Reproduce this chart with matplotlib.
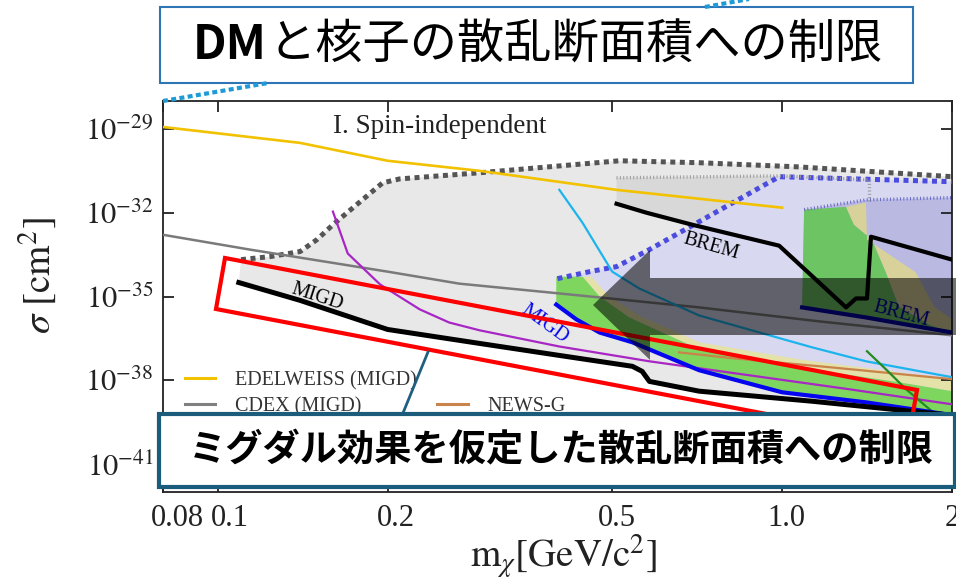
import numpy as np
import matplotlib
matplotlib.use("Agg")
import matplotlib.pyplot as plt
from matplotlib.lines import Line2D
from matplotlib.patches import Polygon, Rectangle
from matplotlib.ticker import NullLocator
from matplotlib.transforms import ScaledTranslation

plt.rcParams["font.family"] = ["Liberation Serif", "DejaVu Serif"]
plt.rcParams["mathtext.fontset"] = "stix"

W, H = 956, 586
JP = ["Noto Sans CJK JP", "DejaVu Sans"]

# --- data: mass [GeV/c^2] and log10(sigma / cm^2) ---
edelweiss_m = [0.08, 0.14, 0.20, 0.291, 0.508, 0.713, 1.0]
edelweiss_ls = [-28.93, -29.50, -30.14, -30.50, -31.18, -31.50, -31.82]

cdex_m = [0.08, 0.114, 0.20, 0.268, 0.403, 0.713, 1.163, 2.0]
cdex_ls = [-32.79, -33.32, -34.11, -34.54, -34.89, -35.39, -35.89, -36.39]

env_m = [0.110, 0.124, 0.140, 0.150, 0.160, 0.178, 0.196, 0.210, 0.291,
         0.515, 0.713, 1.072, 2.0]
env_ls = [-33.68, -33.57, -33.39, -32.96, -32.43, -31.64, -30.93, -30.79,
          -30.57, -30.14, -30.21, -30.36, -30.71]

migd_m = [0.109, 0.140, 0.20, 0.291, 0.403, 0.543, 0.565, 0.582, 0.713,
          1.130, 1.699, 2.0]
migd_ls = [-34.50, -35.14, -36.18, -36.68, -37.11, -37.50, -37.68, -38.04,
           -38.39, -38.75, -39.11, -39.25]

purple_m = [0.160, 0.170, 0.194, 0.228, 0.257, 0.291, 0.403, 0.582, 0.874,
            1.314, 2.0]
purple_ls = [-31.96, -33.46, -34.57, -35.46, -35.93, -36.21, -36.79, -37.32,
             -37.82, -38.32, -38.86]

cyan_m = [0.403, 0.443, 0.500, 0.558, 0.713, 1.130, 1.408, 2.0]
cyan_ls = [-31.18, -32.36, -34.11, -34.71, -35.68, -36.82, -37.32, -37.89]

newsg_m = [0.657, 0.816, 1.226, 2.0]
newsg_ls = [-37.00, -37.21, -37.54, -37.96]

green_line_m = [1.414, 1.528, 1.658, 1.843, 2.0]
green_line_ls = [-36.96, -37.61, -38.32, -39.11, -39.75]

blue_migd_m = [0.398, 0.432, 0.475, 0.543, 0.713, 1.0, 1.408, 1.843, 2.0]
blue_migd_ls = [-35.29, -35.82, -36.29, -36.64, -37.64, -38.43, -38.79,
                -39.14, -39.25]

blue_env_m = [0.40, 0.456, 0.509, 0.582, 0.713, 0.988, 2.0]
blue_env_ls = [-34.36, -34.11, -33.93, -33.32, -32.32, -30.71, -30.89]

brem_m = [0.509, 0.575, 0.693, 0.988, 1.298, 1.352, 1.414, 1.437, 2.0]
brem_ls = [-31.68, -32.00, -32.43, -33.18, -35.39, -35.07, -35.07, -32.86,
           -33.68]

blue_brem_m = [1.085, 1.408, 2.0]
blue_brem_ls = [-35.39, -35.75, -36.29]

gray_fine_m = [0.509, 0.988, 1.426]
gray_fine_ls = [-30.75, -30.68, -30.82]
gray_fine_drop = -31.61

lav_fine_m = [1.094, 1.408, 2.0]
lav_fine_ls = [-31.89, -31.54, -31.46]

band_green_m = [0.398, 0.443, 0.475, 0.536, 0.713, 1.072, 1.611, 2.0]
band_green_ls = [-34.29, -34.29, -35.0, -35.75, -36.89, -37.54, -38.07, -38.39]
band_tan_m = [0.443, 0.459, 0.494, 0.558, 0.713, 1.072, 2.0]
band_tan_ls = [-34.29, -34.29, -35.0, -35.68, -36.64, -37.25, -37.96]

green_r_m = [1.094, 1.298, 1.341, 1.443, 1.528, 1.611, 1.820, 2.0]
green_r_ls = [-31.89, -31.79, -32.43, -32.96, -34.14, -35.36, -36.0, -36.29]
tan_r_m = [1.298, 1.408, 1.414, 1.726, 1.858, 2.0]
tan_r_ls = [-31.79, -31.64, -32.96, -34.14, -35.36, -35.82]

xticks = [0.08, 0.1, 0.2, 0.5, 1.0, 2.0]
xticklabels = ["0.08", "0.1", "0.2", "0.5", "1.0", "2"]
yexp = [-29, -32, -35, -38, -41]

title = "と核子の散乱断面積への制限"
callout = "ミグダル効果を仮定した散乱断面積への制限"


def lg(v):
    return np.power(10.0, np.asarray(v, float))


def fpx(x, y):
    return (x / W, 1 - y / H)


fig = plt.figure(figsize=(W / 100, H / 100), dpi=100)
ax = fig.add_axes([163 / W, 1 - 492 / H, 789 / W, 391 / H])
ax.set_xscale("log")
ax.set_yscale("log")


def fill(xs, ys, color, z):
    ax.fill(xs, lg(ys), color=color, lw=0, zorder=z)


# shaded regions
fill(env_m + migd_m[::-1], env_ls + migd_ls[::-1], "#e8e8e8", 1.0)
fill(gray_fine_m + [gray_fine_m[-1]] + brem_m[:4][::-1],
     gray_fine_ls + [gray_fine_drop] + brem_ls[:4][::-1], "#d8d8d8", 1.1)
fill(blue_env_m + blue_migd_m[::-1], blue_env_ls + blue_migd_ls[::-1],
     "#d8d8f0", 1.2)
fill(lav_fine_m + blue_brem_m[::-1], lav_fine_ls + blue_brem_ls[::-1],
     "#b9b9e2", 1.3)
fill(band_tan_m + band_green_m[1:][::-1], band_tan_ls + band_green_ls[1:][::-1],
     "#e4e2a8", 1.4)
fill(band_green_m + blue_migd_m[::-1], band_green_ls + blue_migd_ls[::-1],
     "#7ed65e", 1.5)
fill(green_r_m + blue_brem_m[::-1], green_r_ls + blue_brem_ls[::-1],
     "#6cc462", 1.5)
fill(tan_r_m + green_r_m[1:][::-1], tan_r_ls + green_r_ls[1:][::-1],
     "#d8d29a", 1.6)

# boundaries
ax.plot(env_m, lg(env_ls), color="#555555", lw=3.6, ls=(0, (1, 0.9)), zorder=3)
ax.plot(blue_env_m, lg(blue_env_ls), color="#4b4be0", lw=3.6,
        ls=(0, (1, 0.9)), zorder=3)
ax.plot(gray_fine_m, lg(gray_fine_ls), color="#9a9a9a", lw=2.4,
        ls=(0, (0.3, 0.7)), zorder=3)
ax.plot([gray_fine_m[-1]] * 2, lg([gray_fine_ls[-1], gray_fine_drop]),
        color="#9a9a9a", lw=2.4, ls=(0, (0.3, 0.7)), zorder=3)
ax.plot(lav_fine_m, lg(lav_fine_ls), color="#6a6ac8", lw=2.4,
        ls=(0, (0.3, 0.7)), zorder=3)

# limit curves
ax.plot(edelweiss_m, lg(edelweiss_ls), color="#f2c200", lw=1.9, zorder=4)
ax.plot(cdex_m, lg(cdex_ls), color="#7a7a7a", lw=1.8, zorder=4)
ax.plot(purple_m, lg(purple_ls), color="#a826c4", lw=1.6, zorder=4)
ax.plot(cyan_m, lg(cyan_ls), color="#1cb4ec", lw=1.6, zorder=4)
ax.plot(newsg_m, lg(newsg_ls), color="#c8844a", lw=1.6, zorder=4)
ax.plot(green_line_m, lg(green_line_ls), color="#228b22", lw=1.6, zorder=4)
ax.plot(blue_migd_m, lg(blue_migd_ls), color="#0505f0", lw=3.0, zorder=4)
ax.plot(migd_m, lg(migd_ls), color="black", lw=3.6, zorder=4)
ax.plot(brem_m, lg(brem_ls), color="black", lw=3.0, zorder=4)
ax.plot(blue_brem_m, lg(blue_brem_ls), color="#0000a8", lw=3.0, zorder=4)

ax.text(0.150, lg(-35.0), "MIGD", rotation=-18, fontsize=14.5, ha="center",
        va="center", color="black", zorder=5)
ax.text(0.379, lg(-36.0), "MIGD", rotation=-36, fontsize=14.5, ha="center",
        va="center", color="#0505f0", zorder=5)
ax.text(0.749, lg(-33.21), "BREM", rotation=-16, fontsize=14.5, ha="center",
        va="center", color="black", zorder=5)
ax.text(1.624, lg(-35.61), "BREM", rotation=-15, fontsize=14.5, ha="center",
        va="center", color="#0000a8", zorder=5)
ax.text(0.351, 0.934, "I. Spin-independent", transform=ax.transAxes,
        fontsize=19.5, ha="center", va="center", color="#222222")

handles = [Line2D([], [], color="#f2c200", lw=2.2),
           Line2D([], [], color="#808080", lw=2.2),
           Line2D([], [], alpha=0),
           Line2D([], [], color="#c8844a", lw=2.2)]
labels = ["EDELWEISS (MIGD)", "CDEX (MIGD)", "", "NEWS-G"]
ax.legend(handles, labels, ncol=2, loc="upper left",
          bbox_to_anchor=(0.028, 0.31), frameon=False, fontsize=14.5,
          handlelength=1.5, handletextpad=1.0, columnspacing=1.0,
          labelspacing=0.35, borderpad=0, borderaxespad=0,
          labelcolor="#333333")

ax.set_xlim(0.08, 2.0)
ax.set_ylim(1e-42, 1e-28)
ax.set_xticks(xticks)
ax.set_xticklabels(xticklabels)
ax.set_yticks([10.0 ** e for e in yexp])
ax.set_yticklabels([rf"$10^{{{e}}}$" for e in yexp])
ax.xaxis.set_minor_locator(NullLocator())
ax.yaxis.set_minor_locator(NullLocator())
ax.tick_params(which="major", direction="in", length=8, width=1.3, top=True,
               right=True, labelsize=22, colors="#222222")
ax.tick_params(axis="x", pad=9)
ax.tick_params(axis="y", pad=7)
for s in ax.spines.values():
    s.set_linewidth(1.3)
    s.set_color("#222222")
for lab, dx in zip(ax.get_xticklabels(), [14, 12, 8, 5, 4, 0]):
    lab.set_transform(lab.get_transform()
                      + ScaledTranslation(dx / 100, 0, fig.dpi_scale_trans))

fig.text(*fpx(38, 276), r"$\sigma\ [\mathrm{cm}^2]$", rotation=90,
         fontsize=28, ha="center", va="center", color="#222222")
fig.text(*fpx(563, 557), r"$\mathrm{m}_\chi[\mathrm{GeV/c}^2]$",
         fontsize=28, ha="center", va="center", color="#222222")

# --- slide annotations on top of the figure ---
ft = fig.transFigure
red_box = [fpx(225, 258), fpx(917, 390), fpx(908, 441), fpx(216, 309)]
fig.add_artist(Polygon(red_box, closed=True, fill=False, edgecolor="#ff0000",
                       lw=3.0, transform=ft, zorder=1.5))
arrow = [fpx(593, 305), fpx(650, 250), fpx(650, 278), fpx(956, 278),
         fpx(956, 335), fpx(650, 335), fpx(650, 360)]
fig.add_artist(Polygon(arrow, closed=True, facecolor="black", alpha=0.55,
                       lw=0, transform=ft, zorder=2))
(x0, y0), (x1, y1) = fpx(428, 352), fpx(403, 413)
fig.add_artist(Line2D([x0, x1], [y0, y1], color="#1f5f80", lw=2.0,
                      transform=ft, zorder=2.5))

bx0, by0 = fpx(159, 487)
fig.add_artist(Rectangle((bx0, by0), 796 / W, 73 / H, facecolor="white",
                         edgecolor="#1b5c7c", lw=3.0, transform=ft, zorder=3))
fig.text(*fpx(561, 451), callout, family=JP, weight="bold", fontsize=26.8,
         ha="center", va="center", color="black", zorder=3.5)

tx0, ty0 = fpx(160, 83)
fig.add_artist(Rectangle((tx0, ty0), 753 / W, 76 / H, facecolor="white",
                         edgecolor="#2e75b6", lw=1.5, transform=ft, zorder=3))
t_dm = fig.text(0, 0, "DM", family=JP, weight="bold", fontsize=34,
                ha="left", va="center", color="black", zorder=3.5)
t_rest = fig.text(0, 0, title, family=JP, fontsize=34, ha="left",
                  va="center", color="black", zorder=3.5)
r = fig.canvas.get_renderer()
w_dm = t_dm.get_window_extent(r).width
w_rest = t_rest.get_window_extent(r).width
start = 537 - (w_dm + w_rest) / 2
t_dm.set_position(fpx(start, 45))
t_rest.set_position(fpx(start + w_dm + 2, 45))

for (a, b) in [((163, 101), (268, 83)), ((705, 7), (760, -3))]:
    (xa, ya), (xb, yb) = fpx(*a), fpx(*b)
    fig.add_artist(Line2D([xa, xb], [ya, yb], color="#1e9bd7", lw=3.0,
                          ls=(0, (1.2, 0.8)), transform=ft, zorder=4))

fig.savefig("out.png", dpi=100)
